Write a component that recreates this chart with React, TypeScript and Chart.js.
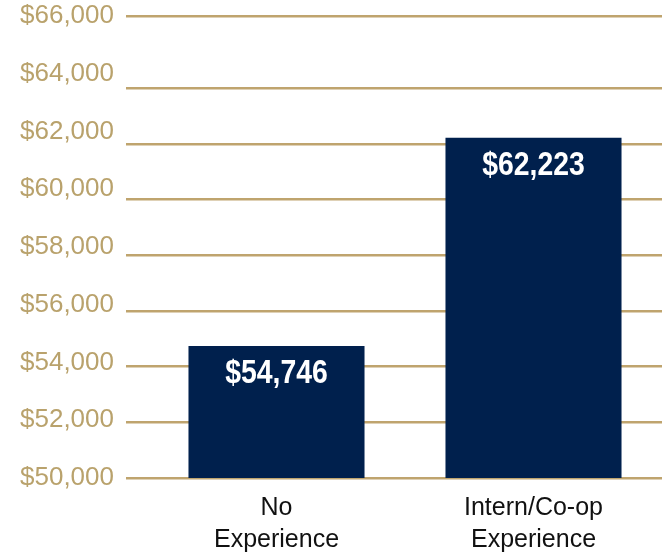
import React, { useEffect, useRef } from "react";
import { Chart, registerables } from "chart.js";

Chart.register(...registerables);

const categories: string[][] = [["No", "Experience"], ["Intern/Co-op", "Experience"]];
const salaries: number[] = [54746, 62223];

// tick labels shown on the axis (evenly spaced)
const labelMin = 50000;
const labelMax = 66000;
const labelStep = 2000;

// value scale used by the bars and the gold rules (as in the reference, the top rule sits above 64,000 at the frame top)
const valueMin = 50000;
const valueMax = 66600;
const ruleValues: number[] = [50000, 52000, 54000, 56000, 58000, 60000, 62000, 64000, 66600];

const GOLD_LINE = "#BFA46E";
const GOLD_TEXT = "#B9A26C";
const NAVY = "#00204D";

const fmt = (v: number) => "$" + Number(v).toLocaleString("en-US");

const valueLabels = {
  id: "valueLabels",
  afterDatasetsDraw(chart: any) {
    const ctx = chart.ctx;
    const meta = chart.getDatasetMeta(0);
    meta.data.forEach((bar: any, i: number) => {
      ctx.save();
      ctx.fillStyle = "#FFFFFF";
      ctx.font = "bold 33px 'Liberation Sans', Arial, sans-serif";
      ctx.textAlign = "center";
      ctx.textBaseline = "middle";
      ctx.translate(bar.x, bar.y + 28);
      ctx.scale(0.86, 1);
      ctx.fillText(fmt(salaries[i]), 0, 0);
      ctx.restore();
    });
  },
};

export default function App() {
  const ref = useRef<HTMLCanvasElement>(null);
  useEffect(() => {
    document.body.style.margin = "0";
    const chart = new Chart(ref.current!, {
      type: "bar",
      data: {
        labels: categories as any,
        datasets: [
          {
            data: salaries,
            backgroundColor: NAVY,
            categoryPercentage: 1,
            barPercentage: 0.685,
            yAxisID: "y",
          },
        ],
      },
      options: {
        animation: false,
        responsive: false,
        maintainAspectRatio: false,
        layout: { padding: { top: 16, left: 16, right: 0, bottom: 0 } },
        plugins: { legend: { display: false }, tooltip: { enabled: false } },
        scales: {
          x: {
            grid: { display: false },
            border: { display: false },
            afterFit: (s: any) => {
              s.height = 79;
              s.paddingLeft = 0;
              s.paddingRight = 0;
            },
            ticks: {
              color: "#111111",
              font: { family: "'Liberation Sans', Arial, sans-serif", size: 25, lineHeight: 1.28 },
              padding: 6,
            },
          },
          y: {
            type: "linear",
            position: "left",
            min: valueMin,
            max: valueMax,
            border: { display: false },
            afterBuildTicks: (s: any) => {
              s.ticks = ruleValues.map((v) => ({ value: v }));
            },
            afterFit: (s: any) => {
              s.width = 22;
              s.paddingTop = 0;
              s.paddingBottom = 0;
            },
            grid: { color: GOLD_LINE, lineWidth: 2.5, tickLength: 22, drawTicks: true },
            ticks: { display: false },
          },
          yLabels: {
            type: "linear",
            position: "left",
            min: labelMin,
            max: labelMax,
            border: { display: false },
            grid: { display: false, drawTicks: false },
            afterFit: (s: any) => {
              s.width = 110;
              s.paddingTop = 0;
              s.paddingBottom = 0;
            },
            ticks: {
              stepSize: labelStep,
              color: GOLD_TEXT,
              padding: 12,
              font: { family: "'Liberation Sans', Arial, sans-serif", size: 26 },
              callback: (v: any) => fmt(v),
            },
          },
        } as any,
      },
      plugins: [valueLabels],
    });
    return () => chart.destroy();
  }, []);
  return <canvas ref={ref} width={662} height={557} style={{ display: "block" }} />;
}
